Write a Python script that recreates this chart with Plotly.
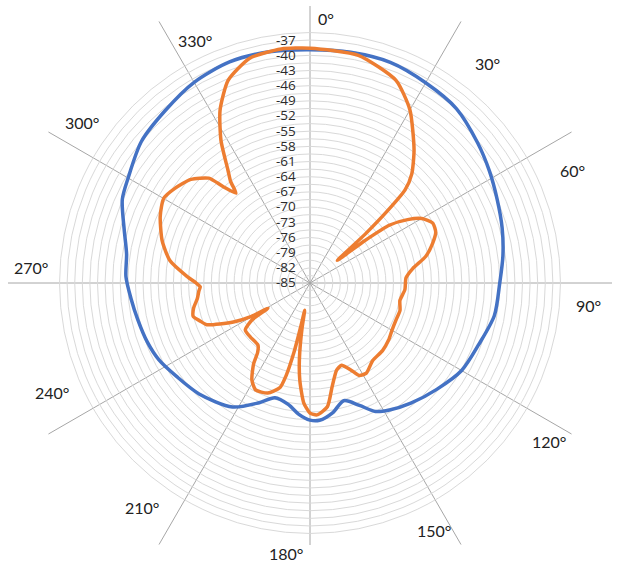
import math
import plotly.graph_objects as go

# ---------------- data ----------------
blue_theta = [0, 10, 20, 30, 40, 50, 58, 66, 74, 82, 90, 100, 110, 120, 130, 140, 148, 153, 158,
              164, 170, 176, 180, 185, 190, 197, 203, 212, 225, 235, 243, 250, 258, 265, 272,
              279, 286, 294, 300, 310, 320, 330, 340, 350]
blue_db = [-38.9, -38.7, -38.6, -39.3, -40.0, -41.8, -43.2, -44.5, -45.5, -46.5, -47.5, -48.0, -49.5,
           -50.4, -52.3, -54.0, -55.4, -56.5, -58.9,
           -60.8, -59.0, -57.8, -57.9, -59.0, -60.6, -61.3, -59.3, -56.1, -54.0, -52.8, -51.5, -50.8,
           -50.2, -49.5, -48.6,
           -48.3, -46.8, -44.4, -43.5, -41.5, -40.5, -39.2, -38.5, -38.6]

orange_theta = [0, 12, 23, 30, 38, 43, 45.6, 47.1, 48.5, 50.5, 52.2, 54, 57, 60, 64, 68, 72, 77,
                82, 87, 94, 101, 107, 113, 120, 126, 133, 141, 148, 152, 155, 159, 163, 168,
                172, 177, 180, 183, 186, 188, 190, 191, 192, 193, 194.5, 196, 201, 207, 211,
                215, 217, 220, 228, 234, 237.5, 239, 240.5, 243, 248, 251, 254, 258, 262, 266,
                268, 270, 273, 279, 286, 294, 300, 305, 311, 316, 318, 320.5, 322, 324, 328,
                332.5, 338, 345, 353]
orange_db = [-38.6, -39.0, -41.5, -45.5, -51.6, -55.5, -58.7, -64.3, -70.5, -78.0, -71.7, -65.5,
             -62.0, -59.5, -58.0, -58.2, -59.5, -61.5,
             -64.5, -66.0, -66.2, -66.9, -66.4, -66.5, -66.3, -65.8, -65.4, -65.3, -64.0, -64.3,
             -66.1, -67.6, -67.0, -64.0,
             -60.3, -58.9, -59.3, -61.3, -65.7, -70.0, -76.0, -79.5, -76.0, -71.0, -66.0, -63.5,
             -61.7, -61.3, -62.7,
             -65.6, -67.8, -69.0, -69.1, -69.2, -71.4, -75.3, -71.4, -68.0, -63.0, -62.0, -61.0,
             -61.5, -62.5, -63.0,
             -63.3, -62.5, -60.7, -57.0, -54.6, -52.6, -51.6, -52.4, -53.8, -56.2, -59.4, -62.0,
             -59.5, -57.4, -51.8,
             -46.5, -41.8, -39.0, -38.4]

radial_labels = ["-85", "-82", "-79", "-76", "-73", "-70", "-67", "-64", "-61", "-58",
                 "-55", "-52", "-49", "-46", "-43", "-40", "-37"]
spoke_angles = [0, 30, 60, 90, 120, 150, 180, 210, 240, 270, 300, 330]
spoke_labels = ["0°", "30°", "60°", "90°", "120°", "150°", "180°", "210°", "240°", "270°",
                "300°", "330°"]

# ---------------- layout geometry ----------------
W, H = 618, 567
CX, CY, R = 310, 283, 253
R_MIN, R_MAX = -85, -35

label_pos = [(326, 18), (487, 63), (572, 170), (588, 305), (549, 441), (434, 530),
             (286, 553), (142, 507), (52, 392), (31, 267), (82, 122), (195, 40)]

minor = 1.5
tickvals = [R_MIN + minor * k for k in range(int((R_MAX - R_MIN) / minor) + 1)]
ticktext = []
for v in tickvals:
    key = ""
    for t in radial_labels:
        if abs(float(t) - v) < 1e-6:
            key = t
    ticktext.append(key)


def close(a, b):
    return list(a) + [a[0] + 360], list(b) + [b[0]]


bt, bd = close(blue_theta, blue_db)
ot, od = close(orange_theta, orange_db)

fig = go.Figure()
fig.add_trace(go.Scatterpolar(theta=bt, r=bd, mode="lines",
                              line=dict(color="#4472C4", width=3.5, shape="spline", smoothing=0.8),
                              showlegend=False, hoverinfo="skip"))
fig.add_trace(go.Scatterpolar(theta=ot, r=od, mode="lines",
                              line=dict(color="#ED7D31", width=3.5, shape="spline", smoothing=0.6),
                              showlegend=False, hoverinfo="skip"))

# spokes
shapes = []
for a in spoke_angles:
    rad = math.radians(a)
    dx, dy = math.sin(rad), -math.cos(rad)
    L = 302
    if dy < 0:
        L = min(L, (CY - 6) / -dy)
    elif dy > 0:
        L = min(L, (545 - CY) / dy)
    x1, y1 = CX + dx * L, CY + dy * L
    shapes.append(dict(type="line", xref="paper", yref="paper",
                       x0=CX / W, y0=1 - CY / H, x1=x1 / W, y1=1 - y1 / H,
                       line=dict(color="#a6a6a6", width=1), layer="below"))

annotations = []
for txt, (px, py) in zip(spoke_labels, label_pos):
    annotations.append(dict(text=txt, x=px / W, y=1 - py / H, xref="paper", yref="paper",
                            showarrow=False, xanchor="center", yanchor="middle",
                            font=dict(size=16, color="#222222", family="Lato, Open Sans, sans-serif")))

fig.update_layout(
    width=W, height=H,
    margin=dict(l=0, r=0, t=0, b=0),
    paper_bgcolor="white",
    shapes=shapes,
    annotations=annotations,
    polar=dict(
        domain=dict(x=[(CX - R) / W, (CX + R) / W], y=[(H - CY - R) / H, (H - CY + R) / H]),
        bgcolor="rgba(0,0,0,0)",
        radialaxis=dict(range=[R_MIN, R_MAX], angle=90, side="counterclockwise",
                        tickvals=tickvals, ticktext=ticktext, showline=False,
                        ticks="outside", ticklen=9, tickcolor="rgba(0,0,0,0)",
                        gridcolor="#d9d9d9", gridwidth=1, tickangle=90,
                        tickfont=dict(size=13.5, color="#2b2b2b", family="Open Sans, sans-serif"),
                        layer="above traces"),
        angularaxis=dict(rotation=90, direction="clockwise", showgrid=False,
                         showticklabels=False, showline=False, ticks=""),
    ),
)

fig.write_html("out.html", config={"displayModeBar": False},
               post_script="document.body.style.margin='0px';document.body.style.overflow='hidden';")
